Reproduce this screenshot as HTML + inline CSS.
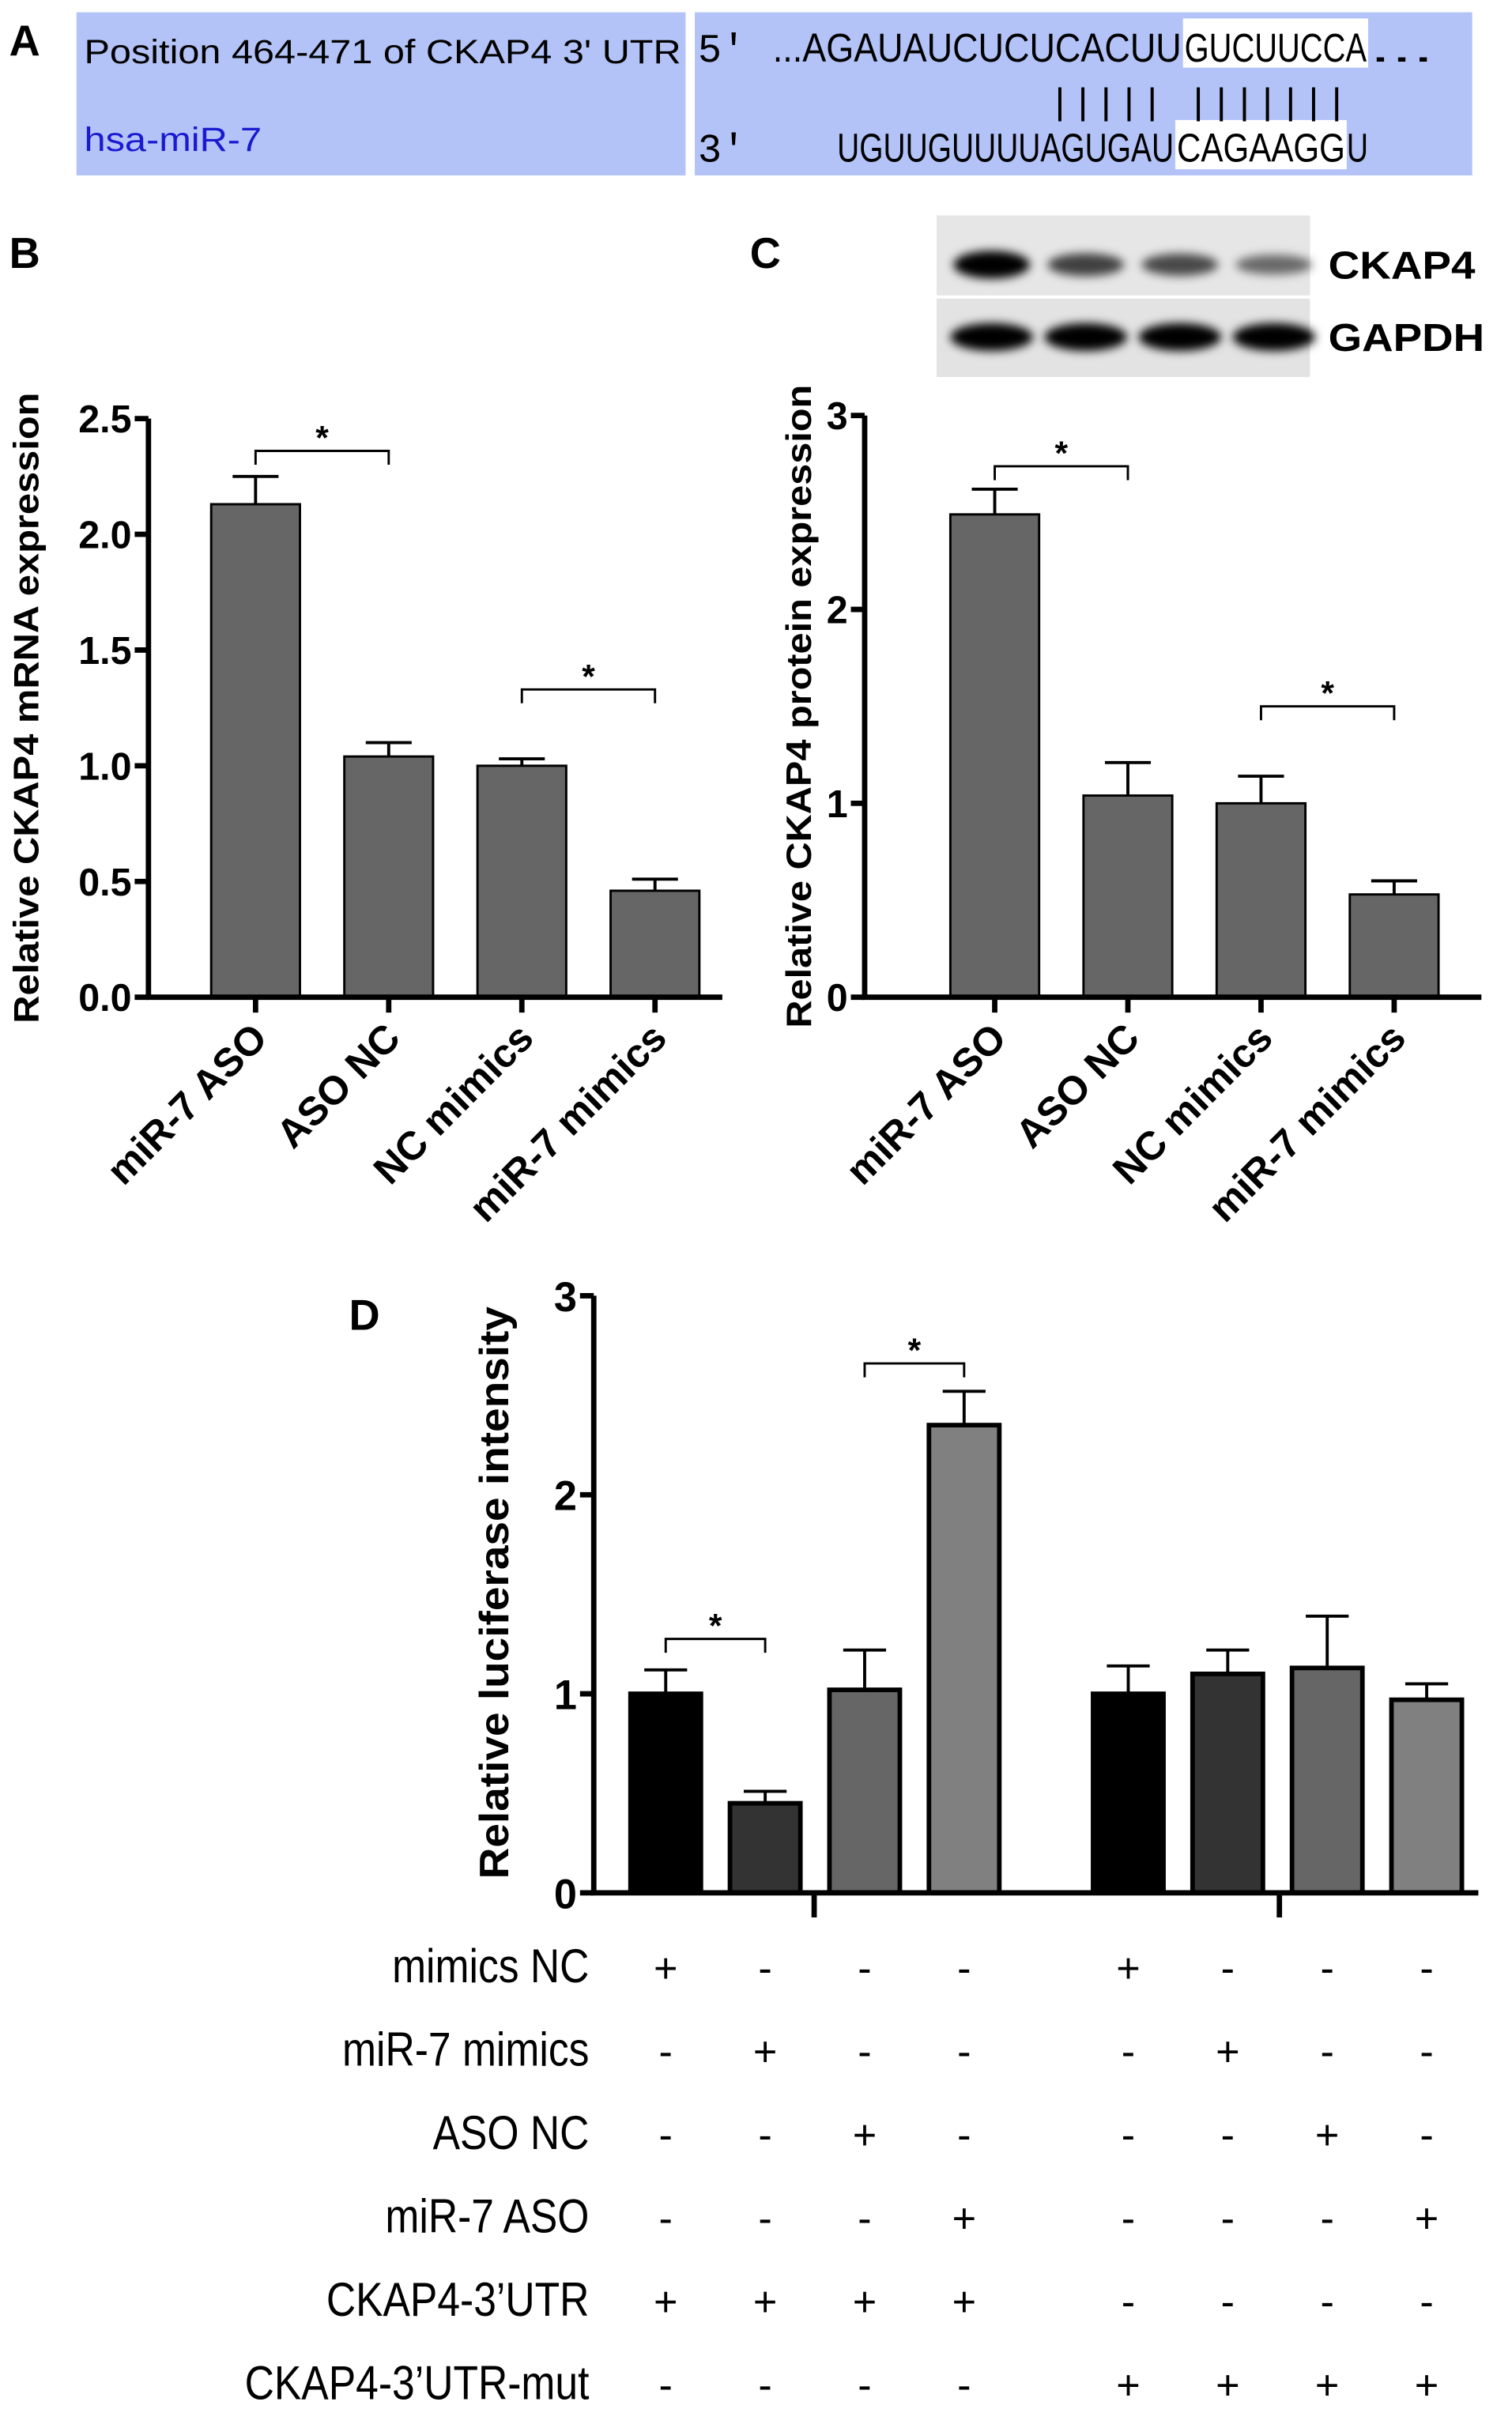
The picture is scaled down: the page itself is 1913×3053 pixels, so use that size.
<!DOCTYPE html>
<html><head><meta charset="utf-8"><style>
html,body{margin:0;padding:0;background:#fff;}
svg{display:block;}
text{font-family:"Liberation Sans",Arial,sans-serif;}
.b{font-weight:bold;}
.mono{font-family:"Liberation Mono","DejaVu Sans Mono",monospace;}
</style></head><body>
<svg id="fig" width="1913" height="3053" viewBox="0 0 988 1568" preserveAspectRatio="none" xmlns="http://www.w3.org/2000/svg">
<defs>
<filter id="blur" x="-30%" y="-80%" width="160%" height="260%"><feGaussianBlur stdDeviation="3"/></filter>
</defs>
<g>
<text x="6" y="36" class="b" font-size="28">A</text>
<rect x="50" y="8" width="398" height="106" fill="#b3c3f7"/>
<rect x="454" y="8" width="508" height="106" fill="#b3c3f7"/>
<text x="55" y="41" font-size="22" textLength="390" lengthAdjust="spacingAndGlyphs">Position 464-471 of CKAP4 3' UTR</text>
<text x="55" y="98" font-size="22" fill="#1a1ad0" textLength="116" lengthAdjust="spacingAndGlyphs">hsa-miR-7</text>
<rect x="773" y="12" width="121" height="32" fill="#fff"/>
<rect x="768" y="78" width="112" height="32" fill="#fff"/>
<text x="456" y="40" font-size="26" class="mono">5'</text>
<g>
<text x="505" y="40" font-size="26" textLength="267" lengthAdjust="spacingAndGlyphs">...AGAUAUCUCUCACUU</text>
<text x="774" y="40" font-size="26" textLength="119" lengthAdjust="spacingAndGlyphs">GUCUUCCA</text>
<text x="895" y="40" font-size="26" textLength="42" lengthAdjust="spacingAndGlyphs">...</text>
</g>
<text x="685" y="74" font-size="24" class="mono" textLength="196" lengthAdjust="spacingAndGlyphs">||||| |||||||</text>
<text x="456" y="105" font-size="26" class="mono">3'</text>
<g>
<text x="547" y="105" font-size="26" textLength="220" lengthAdjust="spacingAndGlyphs">UGUUGUUUUAGUGAU</text>
<text x="769" y="105" font-size="26" textLength="110" lengthAdjust="spacingAndGlyphs">CAGAAGG</text>
<text x="880" y="105" font-size="26" textLength="14" lengthAdjust="spacingAndGlyphs">U</text>
</g>
</g>
<text x="6" y="174" class="b" font-size="28">B</text>
<text x="490" y="174" class="b" font-size="28">C</text>
<text x="228" y="864" class="b" font-size="28">D</text>
<g>
<rect x="612" y="140" width="244" height="52" fill="#e6e6e6"/>
<rect x="612" y="194" width="244" height="51" fill="#e3e3e3"/>
<g id="bands"></g>
<text x="868" y="181" class="b" font-size="25" textLength="96" lengthAdjust="spacingAndGlyphs">CKAP4</text>
<text x="868" y="228" class="b" font-size="25" textLength="102" lengthAdjust="spacingAndGlyphs">GAPDH</text>
</g>
<g id="chartB"></g>
<g id="chartC"></g>
<g id="chartD"></g>
</svg>
<script>
const catsBC = ["miR-7 ASO","ASO NC","NC mimics","miR-7 mimics"];
const valsB = [2.13,1.04,1.00,0.46];
const errB = [0.12,0.06,0.03,0.05];
const ticksB = [0,0.5,1.0,1.5,2.0,2.5];
const tickLabelsB = ["0.0","0.5","1.0","1.5","2.0","2.5"];
const valsC = [2.49,1.04,1.00,0.53];
const errC = [0.13,0.17,0.14,0.07];
const ticksC = [0,1,2,3];
const bandCKAP4 = [1.0,0.6,0.55,0.35];
const bandGAPDH = [1.0,1.0,1.0,1.0];
const valsD = [1.00,0.45,1.02,2.35,1.00,1.10,1.13,0.97];
const errD = [0.12,0.06,0.20,0.17,0.14,0.12,0.26,0.08];
const ticksD = [0,1,2,3];
const rowLabels = ["mimics NC","miR-7 mimics","ASO NC","miR-7 ASO","CKAP4-3\u2019UTR","CKAP4-3\u2019UTR-mut"];
const rowSigns = ["+---+---","-+---+--","--+---+-","---+---+","++++----","----++++"];

const NS="http://www.w3.org/2000/svg";
function mk(parent,tag,attrs,txt){const e=document.createElementNS(NS,tag);for(const k in attrs)e.setAttribute(k,attrs[k]);if(txt!==undefined)e.textContent=txt;parent.appendChild(e);return e;}

const bands=document.getElementById('bands');
bandCKAP4.forEach((v,i)=>{const cx=648+i*61.5;
 const e=mk(bands,'ellipse',{cx:cx,cy:172,rx:25,ry:5+4*v,fill:'#000','fill-opacity':0.3+0.7*v,filter:'url(#blur)'});
 
 });
bandGAPDH.forEach((v,i)=>{const cx=648+i*61.5;
 const e=mk(bands,'ellipse',{cx:cx,cy:219,rx:27,ry:9*v,fill:'#000',filter:'url(#blur)'});
 
 });

function barChart(g,o){
 const y=v=>o.y0-v/o.ymax*(o.y0-o.ytop);
 o.vals.forEach((v,i)=>{const cx=o.x0+i*o.step;
  const r=mk(g,'rect',{x:cx-o.bw/2,y:y(v),width:o.bw,height:o.y0-y(v),fill:'#666',stroke:'#000','stroke-width':1.5});
  
  
  const et=y(v+o.err[i]);
  const l=mk(g,'path',{d:`M${cx} ${y(v)} V${et} M${cx-15} ${et} H${cx+15}`,stroke:'#000','stroke-width':2,fill:'none'});
  
  
 });
 const ax=mk(g,'path',{d:`M${o.ax} ${o.ytop} V${o.y0} H${o.xend}`,stroke:'#000','stroke-width':3.5,fill:'none'});
 
 
 o.ticks.forEach((t,i)=>{const ty=y(t);
  mk(g,'line',{x1:o.ax-9,x2:o.ax,y1:ty,y2:ty,stroke:'#000','stroke-width':3.5});
  const tl=mk(g,'text',{x:o.ax-11,y:ty+9,'text-anchor':'end','font-size':25,'font-weight':'bold'},o.tickLabels[i]);
  
  
 });
 const yt=mk(g,'text',{x:0,y:0,transform:`translate(${o.titleX},${o.titleY}) rotate(-90)`,'text-anchor':'middle','font-size':23,'font-weight':'bold',textLength:o.titleLen,lengthAdjust:'spacingAndGlyphs'},o.title);
 
 
 o.brackets.forEach(b=>{const x1=o.x0+b[0]*o.step,x2=o.x0+b[1]*o.step;
  const p=mk(g,'path',{d:`M${x1} ${b[2]+9} V${b[2]} H${x2} V${b[2]+9}`,stroke:'#000','stroke-width':1.5,fill:'none'});
  
  
  const s=mk(g,'text',{x:(x1+x2)/2,y:b[2]-1,'text-anchor':'middle','font-size':22,'font-weight':'bold'},'*');
  
  
 });
}

const gB=document.getElementById('chartB');
barChart(gB,{vals:valsB,err:errB,ticks:ticksB,tickLabels:tickLabelsB,ymax:2.5,y0:648,ytop:272,x0:167,step:87,bw:58,
 ax:97,xend:472,title:'Relative CKAP4 mRNA expression',titleX:25,titleY:460,titleLen:410,brackets:[[0,1,293],[2,3,448]]});
const gC=document.getElementById('chartC');
barChart(gC,{vals:valsC,err:errC,ticks:ticksC,tickLabels:ticksC.map(String),ymax:3,y0:648,ytop:270,x0:650,step:87,bw:58,
 ax:565,xend:968,title:'Relative CKAP4 protein expression',titleX:530,titleY:459,titleLen:418,brackets:[[0,1,303],[2,3,459]]});
[[gB,167],[gC,650]].forEach(([g,x0])=>{catsBC.forEach((c,i)=>{const cx=x0+i*87;
 mk(g,'line',{x1:cx,x2:cx,y1:648,y2:658,stroke:'#000','stroke-width':3.5});
 const t=mk(g,'text',{x:0,y:0,transform:`translate(${cx+9},${676}) rotate(-45)`,'text-anchor':'end','font-size':26,'font-weight':'bold'},c);
 
 });});

const gD=document.getElementById('chartD');
const centersStep=[0,1,2,3,4.65,5.65,6.65,7.65];
const colorsD=['#000','#333','#666','#808080'];
const yD=v=>1230-v/3*(1230-842);
valsD.forEach((v,i)=>{const cx=435+centersStep[i]*65;
 const r=mk(gD,'rect',{x:cx-23,y:yD(v),width:46,height:1230-yD(v),fill:colorsD[i%4],stroke:'#000','stroke-width':3});
 
 
 const et=yD(v+errD[i]);
 const l=mk(gD,'path',{d:`M${cx} ${yD(v)} V${et} M${cx-14} ${et} H${cx+14}`,stroke:'#000','stroke-width':2,fill:'none'});
 
 });
const axD=mk(gD,'path',{d:`M388 842 V1230 H966 M532 1230 V1246 M836 1230 V1246`,stroke:'#000','stroke-width':3.5,fill:'none'});


ticksD.forEach(t=>{const ty=yD(t);mk(gD,'line',{x1:379,x2:388,y1:ty,y2:ty,stroke:'#000','stroke-width':3.5});
 const tl=mk(gD,'text',{x:377,y:ty+10,'text-anchor':'end','font-size':27,'font-weight':'bold'},String(t));
 
 });
const ytD=mk(gD,'text',{x:0,y:0,transform:'translate(332,1035) rotate(-90)','text-anchor':'middle','font-size':27,'font-weight':'bold',textLength:372,lengthAdjust:'spacingAndGlyphs'},'Relative luciferase intensity');


[[0,1,1065],[2,3,886]].forEach(b=>{const x1=435+centersStep[b[0]]*65,x2=435+centersStep[b[1]]*65;
 const p=mk(gD,'path',{d:`M${x1} ${b[2]+9} V${b[2]} H${x2} V${b[2]+9}`,stroke:'#000','stroke-width':1.5,fill:'none'});
 
 
 const s=mk(gD,'text',{x:(x1+x2)/2,y:b[2]-1,'text-anchor':'middle','font-size':22,'font-weight':'bold'},'*');
 
 });
rowLabels.forEach((lab,r)=>{const ry=1288+r*54.2;
 const t=mk(gD,'text',{x:0,y:0,transform:`translate(385,${ry}) scale(0.86,1)`,'text-anchor':'end','font-size':31},lab);
 
 
 rowSigns[r].split('').forEach((s,i)=>{const cx=435+centersStep[i]*65;
  const e=mk(gD,'text',{x:cx,y:ry,'text-anchor':'middle','font-size':27},s);
  
  });});
</script>
</body></html>
